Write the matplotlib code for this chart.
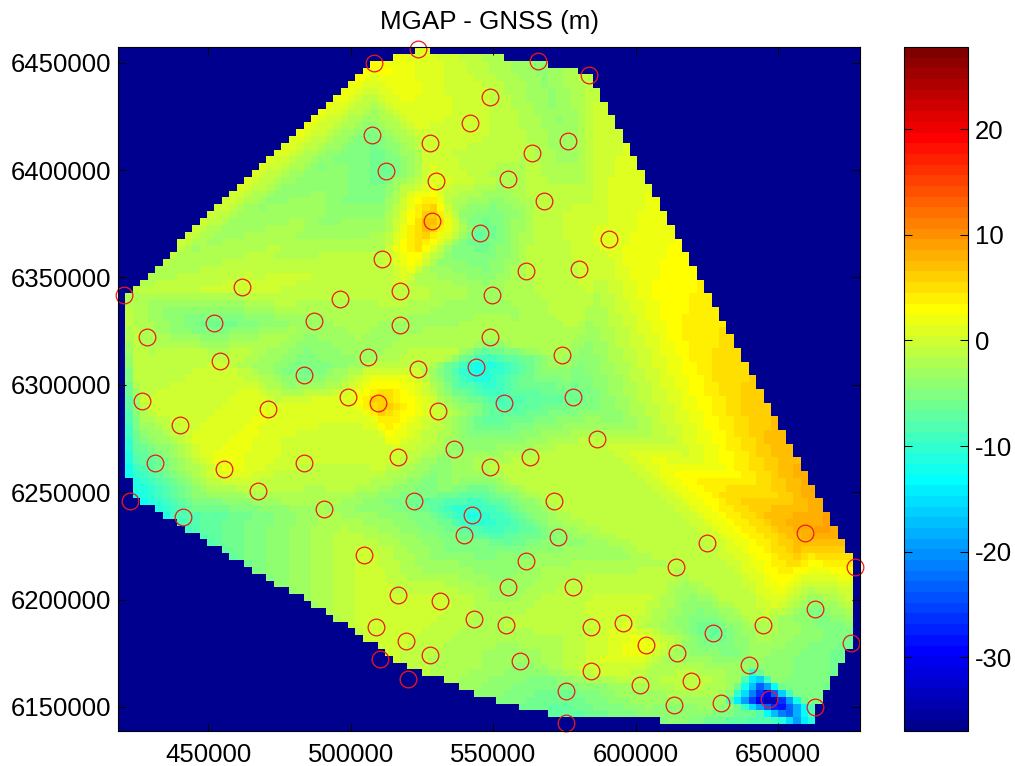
import numpy as np
import matplotlib
matplotlib.use('Agg')
import matplotlib.pyplot as plt
import matplotlib.tri as tri
from matplotlib.colors import LinearSegmentedColormap

plt.rcParams['font.family'] = ['Liberation Sans', 'DejaVu Sans']
plt.rcParams['axes.unicode_minus'] = False

# GNSS stations: easting, northing, MGAP - GNSS difference (m)
east = [420400, 461800, 496200, 517200, 428500, 452000, 487100, 517200, 454100, 506000,
        483600, 523500, 426800, 499000, 509500, 470900, 440100, 516500, 431300, 455500,
        483600, 467400, 422500, 490600, 522100, 523500, 508100, 565600, 583800, 548800,
        541800, 507400, 527700, 576100, 563500, 512300, 529800, 555100, 567700, 528400,
        545300, 590800, 510900, 561400, 580300, 549500, 548800, 574000, 543900, 553700,
        578200, 530500, 586600, 536100, 548800, 562800, 571200, 542500, 539600, 572600,
        561400, 614000, 516500, 531200, 555100, 578200, 543200, 554400, 584500, 595700,
        519300, 527700, 603500, 614700, 559300, 584500, 520000, 575400, 601400, 613300,
        619600, 575400, 508800, 510200, 504600, 441100, 625200, 659600, 677100, 663100,
        644800, 627300, 675700, 639900, 630100, 646900, 663100]
north = [6341800, 6345600, 6340000, 6343700, 6322300, 6328800, 6329700, 6327900, 6311100, 6313000,
         6304600, 6307400, 6292500, 6294300, 6291600, 6288800, 6281300, 6266400, 6263600, 6260800,
         6263600, 6250600, 6245900, 6242200, 6245900, 6456400, 6449900, 6450800, 6444300, 6434000,
         6421900, 6416300, 6412600, 6413500, 6408000, 6399600, 6394900, 6395900, 6385600, 6376300,
         6370700, 6367900, 6358600, 6353000, 6353900, 6341800, 6322300, 6313900, 6308300, 6291600,
         6294300, 6287800, 6274800, 6270100, 6261800, 6266400, 6245900, 6239400, 6230100, 6229200,
         6218000, 6215200, 6202200, 6199400, 6205900, 6205900, 6191000, 6188200, 6187300, 6189100,
         6180700, 6174200, 6178900, 6175200, 6171400, 6166800, 6163100, 6157500, 6160300, 6150900,
         6162100, 6142600, 6187300, 6172400, 6220800, 6238500, 6226400, 6231000, 6215200, 6195600,
         6188200, 6184500, 6179800, 6169600, 6151900, 6153700, 6150000]
diff = [-1.5, 0, -1.5, -0.5, -2, -6.5, -3, -3, -0.5, -3,
        -6, -0.5, -0.5, 1, 7, 1.5, 0, 0, -6.5, 2,
        -0.5, -1.5, -14, -2.5, -6, 1, 3, -4, -1, -0.5,
        0, -5.5, 0, -3.5, -1.5, -6.5, 1, -2, -1, 8,
        -7, 1, -1, -1.5, -0.5, -3, -2, -2, -13, -8.5,
        -6.5, 0, -1, -3.5, -1.5, -1.5, -1, -12, -6, -4.5,
        -3.5, -1.5, -0.5, 0, -3.5, -1, -1.5, -1.5, -0.5, 0.5,
        -0.5, -1.5, 2.5, -3, -3.5, 0, -1, -6, -2, -4,
        -0.5, -8, 0.5, 0, 0, -8.5, -1, 8.5, 4, -5,
        -1.5, -7, -6, -3.5, -3, -37, -5.5]

# surface nodes with no station on them: bottom edge and the warm east edge
extra_east = [608300, 660300, 670100]
extra_north = [6139300, 6139300, 6234800]
extra_diff = [-5, -12, 9]

# lower edge of the surface
lower_east = [420800, 425000, 441100, 464600, 499700, 510200, 520000, 530200, 548800,
              564200, 574700, 608300, 608700, 660300]
lower_north = [6256600, 6246400, 6233800, 6214700, 6187300, 6176600, 6168200, 6163500, 6154200,
               6147700, 6145400, 6145400, 6141200, 6141200]

x_ticks = [450000, 500000, 550000, 600000, 650000]
y_ticks = [6150000, 6200000, 6250000, 6300000, 6350000, 6400000, 6450000]
cbar_ticks = [-30, -20, -10, 0, 10, 20]

x_lim = (418340, 678750)
y_lim = (6138800, 6457300)
z_lim = (-37.0, 27.8)

# same stops as matlab jet(64)
jet64 = LinearSegmentedColormap.from_list(
    'jet64',
    [(0, (0, 0, 0.5625)), (7 / 63, (0, 0, 1)), (23 / 63, (0, 1, 1)),
     (39 / 63, (1, 1, 0)), (55 / 63, (1, 0, 0)), (1, (0.5, 0, 0))],
    N=64)

# 100 x 100 grid, linear over the station triangulation
x_edges = np.linspace(x_lim[0], x_lim[1], 101)
y_edges = np.linspace(y_lim[0], y_lim[1], 101)
grid_x, grid_y = np.meshgrid((x_edges[:-1] + x_edges[1:]) / 2, (y_edges[:-1] + y_edges[1:]) / 2)
triang = tri.Triangulation(east + extra_east, north + extra_north)
grid_z = tri.LinearTriInterpolator(triang, diff + extra_diff)(grid_x, grid_y)
grid_z = np.ma.masked_where(grid_y < np.interp(grid_x, lower_east, lower_north), grid_z)

fig = plt.figure(figsize=(10.15, 7.66), dpi=100)
ax = fig.add_axes([118 / 1015, 1 - 731 / 766, 742 / 1015, 684 / 766])
ax.set_facecolor(jet64(0))
mesh = ax.pcolormesh(x_edges, y_edges, grid_z, cmap=jet64, vmin=z_lim[0], vmax=z_lim[1],
                     shading='flat', antialiased=False)
ax.plot(east, north, 'o', mfc='none', mec='#f01818', ms=12, mew=0.9, clip_on=False, ls='none')
ax.set_xlim(x_lim)
ax.set_ylim(y_lim)
ax.set_xticks(x_ticks)
ax.set_yticks(y_ticks)
ax.ticklabel_format(useOffset=False, style='plain')
ax.tick_params(axis='x', direction='in', top=True, length=6, width=0.75, labelsize=18.5, pad=9)
ax.tick_params(axis='y', direction='in', right=True, length=6, width=0.75, labelsize=18.5, pad=5)
ax.set_title('MGAP - GNSS (m)', fontsize=18.7, pad=13)

cax = fig.add_axes([904 / 1015, 1 - 731 / 766, 64 / 1015, 684 / 766])
cbar = fig.colorbar(mesh, cax=cax)
cbar.set_ticks(cbar_ticks)
cax.tick_params(direction='in', left=True, right=True, length=6, width=0.75, labelsize=18.5, pad=5)

plt.savefig('out.png', dpi=100)
plt.close()
